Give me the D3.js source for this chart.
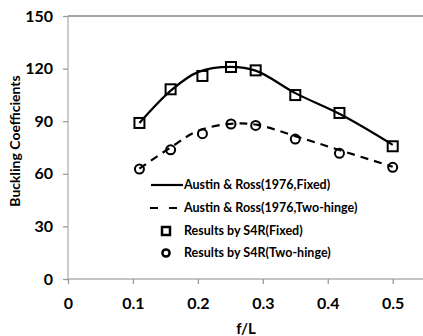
<!DOCTYPE html>
<html>
<head>
<meta charset="utf-8">
<script src="https://cdn.jsdelivr.net/npm/d3@7"></script>
<style>
  body { margin: 0; background: #fff; }
  text { font-family: Lato, "Open Sans", sans-serif; font-weight: bold; fill: #000; }
</style>
</head>
<body>
<div id="chart"></div>
<script>
// values
var fL = [0.11, 0.158, 0.207, 0.251, 0.289, 0.35, 0.418, 0.5];
var s4rFixed = [89, 108.2, 115.8, 120.9, 119, 104.9, 94.7, 75.7];
var s4rHinge = [62.7, 73.7, 82.9, 88.4, 87.6, 79.8, 71.7, 63.7];

var curveX = [0.11, 0.16, 0.2, 0.25, 0.29, 0.35, 0.42, 0.5];
var rossFixed = [89, 108, 118, 121, 118.7, 106, 93.8, 76.5];
var rossHinge = [63, 75.5, 84.5, 88.5, 88, 81.5, 73.3, 64];

var xTicks = [0, 0.1, 0.2, 0.3, 0.4, 0.5];
var yTicks = [0, 30, 60, 90, 120, 150];

var legendNames = ["Austin & Ross(1976,Fixed)", "Austin & Ross(1976,Two-hinge)",
                   "Results by S4R(Fixed)", "Results by S4R(Two-hinge)"];

var W = 423, H = 336;
var svg = d3.select("#chart").append("svg").attr("width", W).attr("height", H);

var x = d3.scaleLinear().domain([0, 0.5]).range([68, 392.7]);
var y = d3.scaleLinear().domain([0, 150]).range([279, 16]);

/* frame lines */
svg.append("line").attr("x1", 68).attr("x2", W).attr("y1", y(0)).attr("y2", y(0))
  .attr("stroke", "#b0b0b0").attr("stroke-width", 1.3);
svg.append("line").attr("x1", 68).attr("x2", W).attr("y1", y(150)).attr("y2", y(150))
  .attr("stroke", "#888").attr("stroke-width", 1.3);
svg.append("line").attr("x1", 68).attr("x2", 68).attr("y1", y(0)).attr("y2", y(150))
  .attr("stroke", "#b0b0b0").attr("stroke-width", 1.3);

var yAxis = svg.append("g").attr("transform", "translate(68,0)")
  .call(d3.axisLeft(y).tickValues(yTicks).tickSize(5).tickPadding(10));
yAxis.select(".domain").remove();
yAxis.selectAll("line").attr("stroke", "#999").attr("stroke-width", 1.3);
yAxis.selectAll("text").style("font-size", "16px").style("font-family", "Lato");

var xAxis = svg.append("g").attr("transform", "translate(0," + y(0) + ")")
  .call(d3.axisBottom(x).tickValues(xTicks).tickSize(5).tickPadding(14).tickFormat(d3.format("")));
xAxis.select(".domain").remove();
xAxis.selectAll("line").attr("stroke", "#999").attr("stroke-width", 1.3);
xAxis.selectAll("text").style("font-size", "16px").style("font-family", "Lato");

svg.append("text").attr("x", 246).attr("y", 334).attr("text-anchor", "middle")
  .style("font-size", "15px").text("f/L");
svg.append("text").attr("transform", "translate(20,141) rotate(-90)")
  .attr("text-anchor", "middle").style("font-size", "14px").text("Buckling Coefficients");

/* theory curves */
var line = d3.line().x(function(d) { return x(d[0]); }).y(function(d) { return y(d[1]); })
  .curve(d3.curveCatmullRom.alpha(0.5));

svg.append("path").datum(d3.zip(curveX, rossFixed)).attr("d", line)
  .attr("fill", "none").attr("stroke", "#000").attr("stroke-width", 2.2);
svg.append("path").datum(d3.zip(curveX, rossHinge)).attr("d", line)
  .attr("fill", "none").attr("stroke", "#000").attr("stroke-width", 2.2)
  .attr("stroke-dasharray", "8,6");

/* S4R results */
var sq = 10;
svg.selectAll("rect.fixed").data(d3.zip(fL, s4rFixed)).enter().append("rect")
  .attr("class", "fixed")
  .attr("x", function(d) { return x(d[0]) - sq / 2; })
  .attr("y", function(d) { return y(d[1]) - sq / 2; })
  .attr("width", sq).attr("height", sq)
  .attr("fill", "none").attr("stroke", "#000").attr("stroke-width", 2);

svg.selectAll("circle.hinge").data(d3.zip(fL, s4rHinge)).enter().append("circle")
  .attr("class", "hinge")
  .attr("cx", function(d) { return x(d[0]); })
  .attr("cy", function(d) { return y(d[1]); })
  .attr("r", 4.5)
  .attr("fill", "none").attr("stroke", "#000").attr("stroke-width", 2);

/* legend */
var ly = [185, 208, 231, 253];
var lg = svg.append("g");
lg.append("line").attr("x1", 151).attr("x2", 183).attr("y1", ly[0]).attr("y2", ly[0])
  .attr("stroke", "#000").attr("stroke-width", 2.2);
lg.append("line").attr("x1", 150).attr("x2", 181).attr("y1", ly[1]).attr("y2", ly[1])
  .attr("stroke", "#000").attr("stroke-width", 2.2).attr("stroke-dasharray", "8,11");
lg.append("rect").attr("x", 162).attr("y", ly[2] - 4).attr("width", 8).attr("height", 8)
  .attr("fill", "none").attr("stroke", "#000").attr("stroke-width", 2.5);
lg.append("circle").attr("cx", 166).attr("cy", ly[3]).attr("r", 3.6)
  .attr("fill", "none").attr("stroke", "#000").attr("stroke-width", 2.5);
lg.selectAll("text").data(legendNames).enter().append("text")
  .attr("x", 184)
  .attr("y", function(d, i) { return ly[i]; })
  .attr("dy", "0.35em")
  .style("font-size", "12.5px")
  .text(function(d) { return d; });
</script>
</body>
</html>
